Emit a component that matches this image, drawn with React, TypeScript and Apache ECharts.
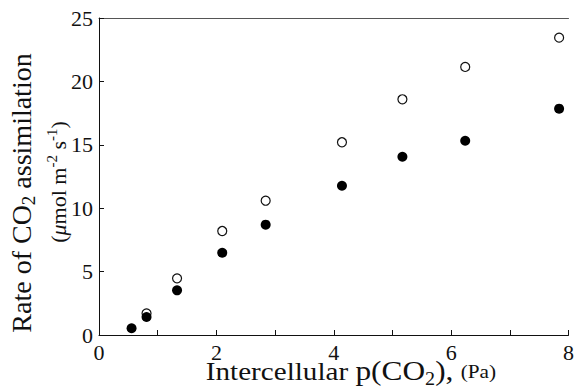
import React, { useEffect, useRef } from "react";
import * as echarts from "echarts";

const xOpen = [0.81, 1.33, 2.1, 2.84, 4.14, 5.17, 6.24, 7.84];
const yOpen = [1.71, 4.47, 8.2, 10.59, 15.2, 18.59, 21.14, 23.45];
const xFilled = [0.555, 0.81, 1.33, 2.1, 2.84, 4.14, 5.17, 6.24, 7.84];
const yFilled = [0.53, 1.42, 3.52, 6.49, 8.7, 11.77, 14.06, 15.32, 17.85];
const xTickLabels = ["0", "", "2", "", "4", "", "6", "", "8"];

const FONT = "'Liberation Serif', 'Times New Roman', serif";

export default function App() {
  const ref = useRef<HTMLDivElement>(null);
  useEffect(() => {
    if (!ref.current) return;
    const chart = echarts.init(ref.current, null, { renderer: "svg" });
    const openData = xOpen.map((x, i) => [x, yOpen[i]]);
    const filledData = xFilled.map((x, i) => [x, yFilled[i]]);
    chart.setOption({
      animation: false,
      backgroundColor: "#ffffff",
      textStyle: { fontFamily: FONT },
      grid: { left: 99, top: 18, width: 480, height: 317, containLabel: false },
      xAxis: [
        {
          type: "value",
          min: 0,
          max: 8,
          interval: 1,
          axisLine: { show: true, onZero: false, lineStyle: { color: "#111", width: 1 } },
          axisTick: { show: true, inside: true, length: 5, lineStyle: { color: "#111" } },
          axisLabel: {
            show: true,
            margin: 8,
            fontFamily: FONT,
            fontSize: 22,
            lineHeight: 18,
            color: "#111",
            formatter: (v: number) => xTickLabels[Math.round(v)] ?? "",
          },
          splitLine: { show: false },
        },
        {
          type: "value",
          position: "top",
          min: 0,
          max: 8,
          axisLine: { show: true, onZero: false, lineStyle: { color: "#555", width: 1 } },
          axisTick: { show: false },
          axisLabel: { show: false },
          splitLine: { show: false },
        },
      ],
      yAxis: {
        type: "value",
        min: 0,
        max: 25,
        interval: 5,
        axisLine: { show: true, onZero: false, lineStyle: { color: "#111", width: 1 } },
        axisTick: { show: true, inside: true, length: 5, lineStyle: { color: "#111" } },
        axisLabel: { margin: 6, fontFamily: FONT, fontSize: 22, lineHeight: 18, color: "#111", padding: [4, 0, 0, 0] },
        splitLine: { show: false },
      },
      graphic: [
        {
          type: "text",
          x: 351,
          y: 371,
          scaleX: 1.12,
          style: {
            text: "Intercellular {big|p(CO}{sub|2}{big|),} {sm|(Pa)}",
            fontFamily: FONT,
            fontSize: 26,
            fill: "#111",
            align: "center",
            verticalAlign: "middle",
            lineHeight: 34,
            rich: {
              big: { fontFamily: FONT, fontSize: 28, fill: "#111", lineHeight: 34 },
              sub: { fontFamily: FONT, fontSize: 18, fill: "#111", lineHeight: 18, verticalAlign: "bottom" },
              sm: { fontFamily: FONT, fontSize: 19, fill: "#111", lineHeight: 34 },
            },
          },
        },
        {
          type: "text",
          x: 21,
          y: 193,
          rotation: Math.PI / 2,
          style: {
            text: "Rate of CO{sub|2} assimilation",
            fontFamily: FONT,
            fontSize: 28,
            fill: "#111",
            align: "center",
            verticalAlign: "middle",
            lineHeight: 34,
            rich: {
              sub: { fontFamily: FONT, fontSize: 19, fill: "#111", lineHeight: 18, verticalAlign: "bottom" },
            },
          },
        },
        {
          type: "text",
          x: 58,
          y: 182,
          rotation: Math.PI / 2,
          style: {
            text: "({it|μ}mol m{sup|-2} s{sup|-1})",
            fontFamily: FONT,
            fontSize: 22,
            fill: "#111",
            align: "center",
            verticalAlign: "middle",
            lineHeight: 28,
            rich: {
              it: { fontFamily: FONT, fontSize: 22, fontStyle: "italic", fill: "#111", lineHeight: 28 },
              sup: { fontFamily: FONT, fontSize: 15, fill: "#111", lineHeight: 14, verticalAlign: "top" },
            },
          },
        },
      ],
      series: [
        {
          type: "scatter",
          data: openData,
          symbol: "circle",
          symbolSize: 9,
          itemStyle: { color: "#ffffff", borderColor: "#111", borderWidth: 1.2, opacity: 1 },
          z: 2,
        },
        {
          type: "scatter",
          data: filledData,
          symbol: "circle",
          symbolSize: 10,
          itemStyle: { color: "#000000", opacity: 1 },
          z: 3,
        },
      ],
    });
    return () => chart.dispose();
  }, []);
  return <div ref={ref} style={{ width: 577, height: 389, position: "absolute", left: 0, top: 0 }} />;
}
